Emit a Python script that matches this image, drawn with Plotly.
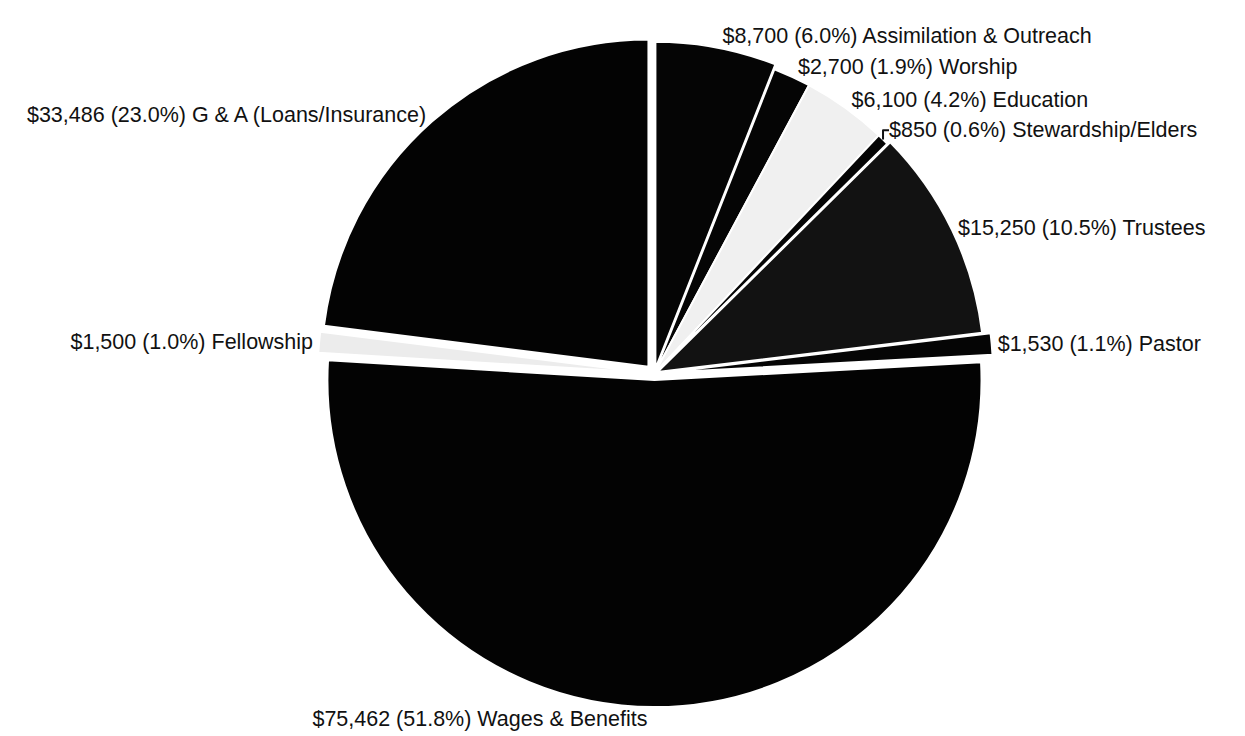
import plotly.graph_objects as go

categories = ["Assimilation & Outreach", "Worship", "Education", "Stewardship/Elders",
              "Trustees", "Pastor", "Wages & Benefits", "Fellowship", "G & A (Loans/Insurance)"]
amounts = [8700, 2700, 6100, 850, 15250, 1530, 75462, 1500, 33486]

colors = ["#050505", "#050505", "#f0f0f0", "#050505", "#121212", "#050505", "#030303", "#ececec", "#030303"]
pulls = [0.015, 0.0, 0.0, 0.0, 0.01, 0.035, 0.02, 0.03, 0.028]

fig = go.Figure(go.Pie(
    labels=categories,
    values=amounts,
    sort=False,
    direction="clockwise",
    rotation=0,
    pull=pulls,
    automargin=False,
    marker=dict(colors=colors, line=dict(color="white", width=2)),
    texttemplate="$%{value:,} (%{percent:.1%}) %{label}",
    textposition="outside",
    textfont=dict(family="Liberation Sans, Arial, sans-serif", size=21.5, color="#111"),
    showlegend=False,
    hoverinfo="label+value+percent",
))

fig.update_layout(
    width=1245, height=736,
    margin=dict(l=48, r=0, t=27, b=32, autoexpand=False),
    paper_bgcolor="white",
    plot_bgcolor="white",
)

fig.write_html("out.html")
